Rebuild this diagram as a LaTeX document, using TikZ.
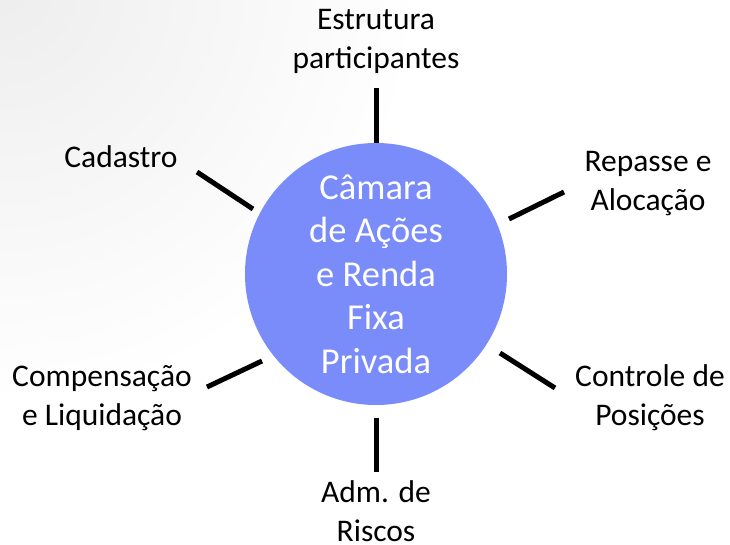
\documentclass[tikz,border=0pt]{standalone}
\usepackage{fontspec}
\setmainfont{Carlito}
\definecolor{hubblue}{RGB}{122,139,250}
\begin{document}
\begin{tikzpicture}[x=1pt,y=1pt,
  lbl/.style={align=center,font=\fontsize{31.5}{39}\selectfont,text=black},
  spoke/.style={line width=5pt,black},
  hub/.style={circle,fill=hubblue,minimum size=262pt,inner sep=0pt,align=center,text=white,font=\fontsize{36.5}{43.5}\selectfont}]
\useasboundingbox (0,0) rectangle (730,544);
\fill[white] (0,0) rectangle (730,544);
\begin{scope}
\clip (0,0) rectangle (730,544);
\shade[inner color=black!7,outer color=white] (0,560) circle (420);
\end{scope}
\node[hub] (c) at (376,270) {Câmara\\de Ações\\e Renda\\Fixa\\Privada};
\node[lbl] (est) at (376,503) {Estrutura\\participantes};
\node[lbl] (cad) at (121,387) {Cadastro};
\node[lbl] (rep) at (648,360) {Repasse e\\Alocação};
\node[lbl] (comp) at (102,146) {Compensação\\e Liquidação};
\node[lbl] (ctrl) at (650,146) {Controle de\\Posições};
\node[lbl] (adm) at (376,33) {Adm. de\\Riscos};
\coordinate (t1) at (376,456); \coordinate (t2) at (376,401);
\coordinate (a1) at (197,372); \coordinate (a2) at (253,335);
\coordinate (b1) at (207,157); \coordinate (b2) at (262,183);
\coordinate (r1) at (564,352); \coordinate (r2) at (509,325);
\coordinate (s1) at (500,191); \coordinate (s2) at (555,156);
\coordinate (u1) at (376,126); \coordinate (u2) at (376,72);
\draw[spoke] (t1) -- (t2);
\draw[spoke] (a1) -- (a2);
\draw[spoke] (b1) -- (b2);
\draw[spoke] (r1) -- (r2);
\draw[spoke] (s1) -- (s2);
\draw[spoke] (u1) -- (u2);
\end{tikzpicture}
\end{document}
